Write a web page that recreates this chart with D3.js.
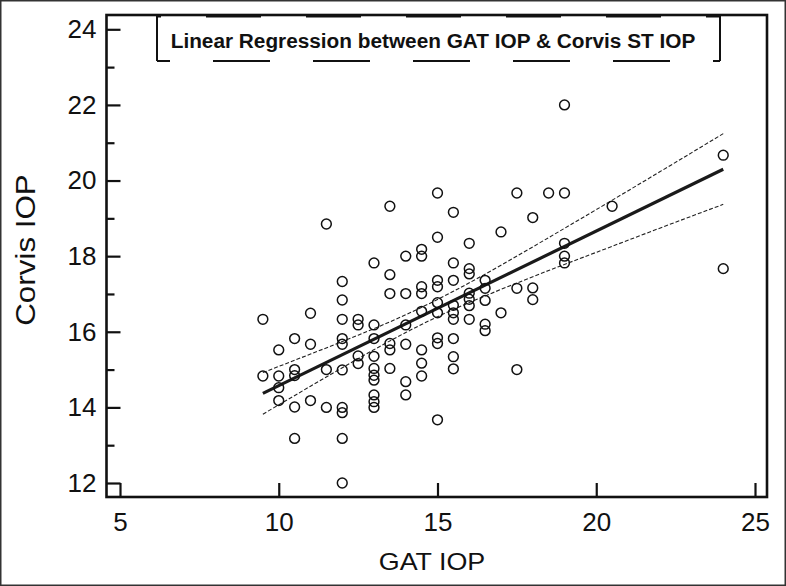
<!DOCTYPE html>
<html>
<head>
<meta charset="utf-8">
<script src="https://cdn.jsdelivr.net/npm/d3@7"></script>
<style>
  html, body { margin: 0; padding: 0; background: #fff; }
  svg { display: block; }
  text { font-family: "Liberation Sans", Arial, sans-serif; fill: #111; }
</style>
</head>
<body>
<svg id="chart" width="786" height="586"></svg>
<script>
// ---- Data ----
const gatIOP = [
  9.5, 9.5,
  10, 10, 10, 10,
  10.5, 10.5, 10.5, 10.5, 10.5,
  11, 11, 11,
  11.5, 11.5, 11.5,
  12, 12, 12, 12, 12, 12, 12, 12, 12, 12,
  12.5, 12.5, 12.5, 12.5,
  13, 13, 13, 13, 13, 13, 13, 13, 13, 13,
  13.5, 13.5, 13.5, 13.5, 13.5, 13.5,
  14, 14, 14, 14, 14, 14,
  14.5, 14.5, 14.5, 14.5, 14.5, 14.5, 14.5, 14.5,
  15, 15, 15, 15, 15, 15, 15, 15, 15,
  15.5, 15.5, 15.5, 15.5, 15.5, 15.5, 15.5, 15.5, 15.5,
  16, 16, 16, 16, 16, 16, 16,
  16.5, 16.5, 16.5, 16.5, 16.5,
  17, 17,
  17.5, 17.5, 17.5,
  18, 18, 18,
  18.5,
  19, 19, 19, 19, 19,
  20.5,
  24, 24
];
const corvisIOP = [
  16.33, 14.83,
  15.52, 14.83, 14.52, 14.18,
  15.82, 15.0, 14.84, 14.01, 13.18,
  16.49, 15.67, 14.18,
  18.85, 15.0, 14.0,
  17.33, 16.84, 16.33, 15.82, 15.67, 14.99, 14.0, 13.86, 13.18, 12.0,
  16.33, 16.18, 15.36, 15.16,
  17.82, 16.18, 15.82, 15.35, 15.03, 14.85, 14.72, 14.33, 14.15, 14.0,
  19.32, 17.51, 17.01, 15.69, 15.52, 15.03,
  18.0, 17.01, 16.18, 15.67, 14.68, 14.33,
  18.18, 18.0, 17.19, 17.01, 16.54, 15.52, 15.17, 14.83,
  19.67, 18.5, 17.36, 17.19, 16.77, 16.5, 15.84, 15.69, 13.67,
  19.16, 17.82, 17.36, 16.7, 16.5, 16.33, 15.82, 15.34, 15.02,
  18.34, 17.67, 17.53, 17.02, 16.86, 16.69, 16.33,
  17.36, 17.15, 16.83, 16.2, 16.03,
  18.64, 16.5,
  19.67, 17.15, 15.0,
  19.02, 17.16, 16.85,
  19.67,
  22.0, 19.67, 18.34, 18.0, 17.82,
  19.32,
  20.67, 17.67
];

// Regression line and 95% confidence band
const fitX = [9.5, 24];
const fitY = [14.37, 20.30];
const bandX     = [9.5,   11,    12.5,  14,    15.5,  17,    18.5,  20,    22,    24];
const bandUpper = [14.92, 15.41, 15.91, 16.45, 17.07, 17.76, 18.49, 19.23, 20.23, 21.24];
const bandLower = [13.82, 14.56, 15.29, 15.98, 16.59, 17.12, 17.62, 18.10, 18.74, 19.37];

// Axis ticks
const xTicks = [5, 10, 15, 20, 25];
const yMajorTicks = [12, 14, 16, 18, 20, 22, 24];
const yMinorTicks = [13, 15, 17, 19, 21, 23];

const titleText = "Linear Regression between GAT IOP & Corvis ST IOP";
const xTitle = "GAT IOP";
const yTitle = "Corvis IOP";

// ---- Layout ----
const svg = d3.select("#chart");
const W = 786, H = 586;
const frame = { left: 106.5, right: 767, top: 15, bottom: 497 };

const x = d3.scaleLinear().domain([5, 25]).range([120, 755]);
const y = d3.scaleLinear().domain([12, 24]).range([483, 29.3]);

// outer border of the picture
svg.append("rect")
  .attr("x", 0.75).attr("y", 0.75)
  .attr("width", W - 1.5).attr("height", H - 1.5)
  .attr("fill", "#fff").attr("stroke", "#333").attr("stroke-width", 1.5);

// ---- Axes ----
const gx = svg.append("g").attr("transform", `translate(0,${frame.bottom})`)
  .call(d3.axisBottom(x).tickValues(xTicks).tickSize(-14).tickPadding(16).tickFormat(d3.format("d")));
const gy = svg.append("g").attr("transform", `translate(${frame.left},0)`)
  .call(d3.axisLeft(y).tickValues(yMajorTicks).tickSize(-14).tickPadding(10).tickFormat(d3.format("d")));
const gyMinor = svg.append("g").attr("transform", `translate(${frame.left},0)`)
  .call(d3.axisLeft(y).tickValues(yMinorTicks).tickSize(-8).tickFormat(""));

[gx, gy, gyMinor].forEach(g => {
  g.select(".domain").remove();
  g.selectAll(".tick line").attr("stroke", "#111").attr("stroke-width", 2.2);
  g.selectAll(".tick text")
    .style("font-family", '"Liberation Sans", Arial, sans-serif')
    .style("font-size", "26px").attr("fill", "#111");
});

// frame (axes lines + top/right)
svg.append("rect")
  .attr("x", frame.left).attr("y", frame.top)
  .attr("width", frame.right - frame.left).attr("height", frame.bottom - frame.top)
  .attr("fill", "none").attr("stroke", "#111").attr("stroke-width", 2.6);

// ---- Title box ----
const box = { left: 157, right: 720, top: 16, bottom: 61 };
const tb = svg.append("g");
tb.append("line").attr("x1", box.left).attr("x2", box.left).attr("y1", box.top).attr("y2", box.bottom)
  .attr("stroke", "#111").attr("stroke-width", 2);
tb.append("line").attr("x1", box.right).attr("x2", box.right).attr("y1", box.top).attr("y2", box.bottom)
  .attr("stroke", "#111").attr("stroke-width", 2);
tb.append("line").attr("x1", box.left).attr("x2", box.right).attr("y1", box.top).attr("y2", box.top)
  .attr("stroke", "#111").attr("stroke-width", 3.2)
  .attr("stroke-dasharray", "55,45").attr("stroke-dashoffset", 51);
tb.append("line").attr("x1", box.left).attr("x2", box.right).attr("y1", box.bottom).attr("y2", box.bottom)
  .attr("stroke", "#111").attr("stroke-width", 2)
  .attr("stroke-dasharray", "57,43").attr("stroke-dashoffset", 44);
const tt = tb.append("text")
  .attr("text-anchor", "middle")
  .style("font-size", "19.5px").style("font-weight", "bold")
  .text(titleText);
// stretch title horizontally to the reference width (~525px)
const tw = tt.node().getComputedTextLength();
const sx = 525 / tw;
tt.attr("transform", `translate(433,47.5) scale(${sx},1)`);

// ---- Confidence band & regression line ----
const bandData = bandX.map((v, i) => ({ x: v, lo: bandLower[i], hi: bandUpper[i] }));
const lineHi = d3.line().x(d => x(d.x)).y(d => y(d.hi)).curve(d3.curveNatural);
const lineLo = d3.line().x(d => x(d.x)).y(d => y(d.lo)).curve(d3.curveNatural);
svg.append("path").attr("d", lineHi(bandData))
  .attr("fill", "none").attr("stroke", "#222").attr("stroke-width", 1.1).attr("stroke-dasharray", "4,2");
svg.append("path").attr("d", lineLo(bandData))
  .attr("fill", "none").attr("stroke", "#222").attr("stroke-width", 1.1).attr("stroke-dasharray", "4,2");

const fitData = fitX.map((v, i) => ({ x: v, y: fitY[i] }));
svg.append("path")
  .attr("d", d3.line().x(d => x(d.x)).y(d => y(d.y))(fitData))
  .attr("fill", "none").attr("stroke", "#1a1a1a").attr("stroke-width", 3.2);

// ---- Points ----
const pts = gatIOP.map((v, i) => ({ x: v, y: corvisIOP[i] }));
svg.append("g").selectAll("circle").data(pts).join("circle")
  .attr("cx", d => x(d.x)).attr("cy", d => y(d.y)).attr("r", 4.9)
  .attr("fill", "none").attr("stroke", "#111").attr("stroke-width", 1.5);

// ---- Axis titles ----
svg.append("text")
  .attr("transform", "translate(432,570) scale(1.12,1)")
  .attr("text-anchor", "middle")
  .style("font-size", "24px")
  .text(xTitle);
svg.append("text")
  .attr("transform", "translate(35,250) rotate(-90) scale(1.12,1)")
  .attr("text-anchor", "middle")
  .style("font-size", "28px")
  .text(yTitle);
</script>
</body>
</html>
